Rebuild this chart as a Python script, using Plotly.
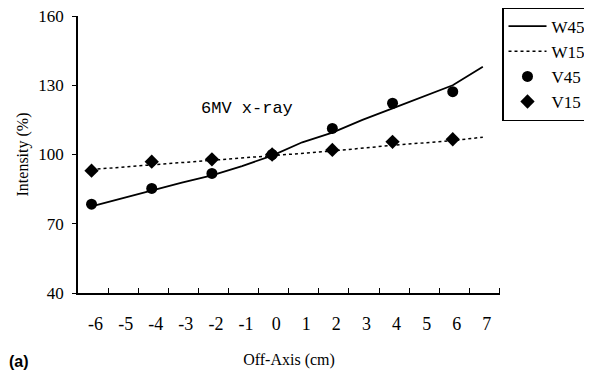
import plotly.graph_objects as go

# Measured points
v_x = [-6, -4, -2, 0, 2, 4, 6]
v45 = [78.5, 85.3, 91.8, 100.0, 111.3, 122.2, 127.2]
v15 = [93.0, 96.9, 97.9, 100.0, 102.0, 105.5, 106.6]

# Calculated curves
w45_x = [-6, -5, -4, -3, -2, -1, 0, 0.5, 1, 2, 3, 4, 5, 6, 7]
w45 = [77.5, 81.0, 84.5, 87.8, 91.0, 95.0, 99.5, 102.5, 105.3, 109.5, 115.0, 120.0, 125.0, 130.0, 138.0]
w15_x = [-6, -4, -2, 0, 2, 4, 6, 7]
w15 = [93.5, 95.5, 97.5, 99.5, 101.5, 104.0, 106.0, 107.5]

x_labels = list(range(-6, 8))
x_tickmarks = [-5.45 + k for k in range(14)]
y_ticks = [40, 70, 100, 130, 160]

FONT = "Liberation Serif"

fig = go.Figure()
fig.add_trace(go.Scatter(x=w45_x, y=w45, mode="lines", name="W45",
                         line=dict(color="black", width=1.8)))
fig.add_trace(go.Scatter(x=w15_x, y=w15, mode="lines", name="W15",
                         line=dict(color="black", width=1.5, dash="dot")))
fig.add_trace(go.Scatter(x=v_x, y=v45, mode="markers", name="V45",
                         marker=dict(symbol="circle", size=11, color="black")))
fig.add_trace(go.Scatter(x=v_x, y=v15, mode="markers", name="V15",
                         marker=dict(symbol="diamond", size=11, color="black")))

fig.update_layout(
    width=584, height=364,
    margin=dict(l=70, r=92, t=8, b=79, autoexpand=False),
    plot_bgcolor="white", paper_bgcolor="white",
    font=dict(family=FONT, size=16, color="black"),
    showlegend=True,
    legend=dict(xref="container", yref="paper",
                x=1.0, xanchor="right", y=1.032, yanchor="top",
                bordercolor="black", borderwidth=1.5, bgcolor="white",
                font=dict(family=FONT, size=17), tracegroupgap=0,
                itemwidth=38),
    xaxis=dict(range=[-6.45, 7.57], tickvals=x_labels,
               ticktext=[str(v) for v in x_labels], ticks="",
               ticklabelstandoff=14, ticklabelshift=4,
               showline=True, linecolor="black", linewidth=1.5,
               showgrid=False, zeroline=False,
               minor=dict(tickvals=x_tickmarks, ticks="inside", ticklen=5,
                          tickcolor="black", tickwidth=1.2, showgrid=False),
               title=dict(text="Off-Axis (cm)", font=dict(family=FONT, size=16), standoff=20),
               tickfont=dict(family=FONT, size=18)),
    yaxis=dict(range=[40, 160], tickvals=y_ticks, ticks="outside", ticklen=4,
               tickcolor="black", showline=True, linecolor="black", linewidth=1.5,
               showgrid=False, zeroline=False, ticklabelstandoff=5,
               ticklabeloverflow="allow",
               title=dict(text="Intensity (%)", font=dict(family=FONT, size=16), standoff=6),
               tickfont=dict(family=FONT, size=17)),
)

fig.add_annotation(x=(7 - 78) / 422, y=(293 - 372) / 277, xref="paper", yref="paper",
                   text="<b>(a)</b>", showarrow=False,
                   font=dict(family="Liberation Sans", size=16))
fig.add_annotation(x=-0.83, y=120.1, text="6MV x-ray", showarrow=False,
                   font=dict(family="Liberation Mono", size=17), xref="x", yref="y")

fig.write_html("out.html")
